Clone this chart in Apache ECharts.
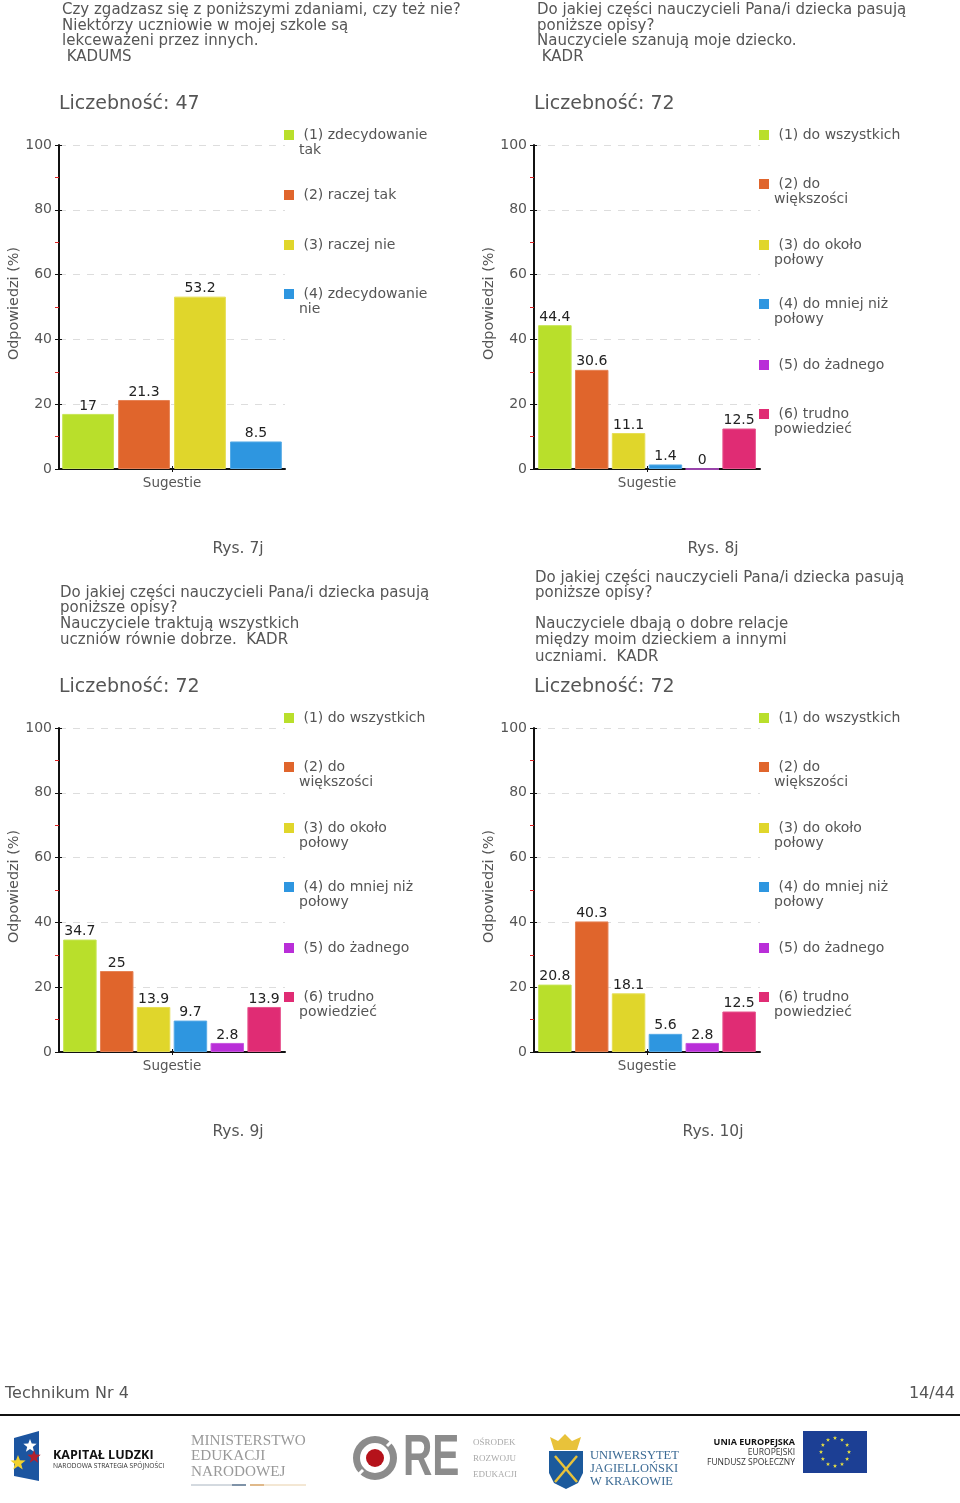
<!DOCTYPE html>
<html><head><meta charset="utf-8">
<style>html,body{margin:0;padding:0;background:#fff}#c{width:960px;height:1503px}</style>
<script src="https://cdn.jsdelivr.net/npm/echarts@6/dist/echarts.min.js"></script></head>
<body><div id="c"></div>
<script>
const FONT = '"DejaVu Sans"';
const answers4 = ['(1) zdecydowanie\ntak','(2) raczej tak','(3) raczej nie','(4) zdecydowanie\nnie'];
const answers6 = ['(1) do wszystkich','(2) do\nwiększości','(3) do około\npołowy','(4) do mniej niż\npołowy','(5) do żadnego','(6) trudno\npowiedzieć'];
const colors4 = ['#b9df2b','#e0652c','#e0d62b','#2e96e0'];
const colors6 = ['#b9df2b','#e0652c','#e0d62b','#2e96e0','#b92ed8','#e02c74'];
const values7 = [17,21.3,53.2,8.5];
const values8 = [44.4,30.6,11.1,1.4,0,12.5];
const values9 = [34.7,25,13.9,9.7,2.8,13.9];
const values10 = [20.8,40.3,18.1,5.6,2.8,12.5];
const counts = ['Liczebność: 47','Liczebność: 72','Liczebność: 72','Liczebność: 72'];
const captions = ['Rys. 7j','Rys. 8j','Rys. 9j','Rys. 10j'];
const yTicks = [0,20,40,60,80,100];
const xName = 'Sugestie', yName = 'Odpowiedzi (%)';
const q7 = ['Czy zgadzasz się z poniższymi zdaniami, czy też nie?','Niektórzy uczniowie w mojej szkole są','lekceważeni przez innych.',' KADUMS'];
const q8 = ['Do jakiej części nauczycieli Pana/i dziecka pasują','poniższe opisy?','Nauczyciele szanują moje dziecko.',' KADR'];
const q9 = ['Do jakiej części nauczycieli Pana/i dziecka pasują','poniższe opisy?','Nauczyciele traktują wszystkich','uczniów równie dobrze.  KADR'];
const q10 = ['Do jakiej części nauczycieli Pana/i dziecka pasują','poniższe opisy?','Nauczyciele dbają o dobre relacje','między moim dzieckiem a innymi','uczniami.  KADR'];

const panels = [
 {v:values7,a:answers4,c:colors4,x:59,y:145,leg:[134,194,244,293],qx:62,qy:[9,25,40,56],q:q7,cx:238,capY:548,cntY:102},
 {v:values8,a:answers6,c:colors6,x:534,y:145,leg:[134,183,244,303,364,413],qx:537,qy:[9,25,40,56],q:q8,cx:713,capY:548,cntY:102},
 {v:values9,a:answers6,c:colors6,x:59,y:728,leg:[717,766,827,886,947,996],qx:60,qy:[592,607,623,639],q:q9,cx:238,capY:1131,cntY:685},
 {v:values10,a:answers6,c:colors6,x:534,y:728,leg:[717,766,827,886,947,996],qx:535,qy:[577,592,623,639,656],q:q10,cx:713,capY:1131,cntY:685}
];
const W=226,H=324;
const grid=[],xAxis=[],yAxis=[],series=[],legend=[],g=[];
const txt=(t,x,y,s,o={})=>({type:'text',silent:true,x,y:y+(o.dy===undefined?1.5:o.dy),scaleX:o.sx||1,style:Object.assign({text:t,font:`${o.w||'normal'} ${s}px ${o.f||FONT}`,fill:o.c||'#555',align:o.a||'left',verticalAlign:'middle'})});
panels.forEach((p,i)=>{
 grid.push({left:p.x,top:p.y,width:W,height:H});
 xAxis.push({gridIndex:i,type:'category',data:[xName],axisLine:{lineStyle:{color:'#111',width:2}},
   axisTick:{show:false},axisLabel:{color:'#555',fontFamily:FONT,fontSize:13.5,margin:7}});
 [false,true].forEach(inside=>xAxis.push({gridIndex:i,type:'value',position:'bottom',min:0,max:2,
   axisLine:{show:false},axisLabel:{show:false},splitLine:{show:false},
   axisTick:{show:true,inside,length:3,customValues:[1],lineStyle:{color:'#111'}}}));
 yAxis.push({gridIndex:i,type:'value',min:0,max:100,interval:20,
   name:yName,nameLocation:'middle',nameGap:34,nameTextStyle:{color:'#555',fontFamily:FONT,fontSize:14.4,padding:[0,0,0,7]},
   axisLine:{show:true,lineStyle:{color:'#111',width:2}},
   axisTick:{show:true,length:4,lineStyle:{color:'#111'}},
   minorTick:{show:true,splitNumber:2,length:4,lineStyle:{color:'#d22'}},
   axisLabel:{color:'#555',fontFamily:FONT,fontSize:14,margin:7,padding:[3,0,0,0],formatter:v=>yTicks.includes(v)?String(v):''},
   splitLine:{show:true,lineStyle:{color:'#ddd',type:[7,7]}}});
 yAxis.push({gridIndex:i,type:'value',min:0,max:100,interval:20,position:'left',
   axisLine:{show:false},axisTick:{show:true,inside:true,length:3,lineStyle:{color:'#111'}},axisLabel:{show:false},splitLine:{show:false}});
 const six=p.v.length===6;
 p.v.forEach((val,k)=>{
  series.push({type:'bar',name:p.a[k],xAxisIndex:i*3,yAxisIndex:i*2,data:[val],
   barWidth:six?33.5:51.8,barGap:six?'10%':'8%',
   itemStyle:{color:p.c[k],borderColor:echarts.color.lift(p.c[k],0.2),borderWidth:1},
   label:{show:true,position:'top',distance:1,color:'#222',fontFamily:FONT,fontSize:14,formatter:'{c}'}});
  const two=p.a[k].includes('\n');
  legend.push({data:[p.a[k]],selectedMode:false,orient:'vertical',left:p.x+225,top:p.leg[k]-(two?23.25:7.75)+1,padding:0,
   itemWidth:10,itemHeight:10,icon:'rect',itemStyle:{borderWidth:0},
   formatter:n=>n.includes('\n')?'\n '+n:' '+n,
   textStyle:{color:'#555',fontFamily:FONT,fontSize:14,lineHeight:15.5}});
 });
 p.q.forEach((t,k)=>g.push(txt(t,p.qx,p.qy[k],15)));
 g.push(txt(counts[i],p.x,p.cntY,19,{dy:2}));
 g.push(txt(captions[i],p.cx,p.capY,15.5,{a:'center',dy:1}));
});
g.push(txt('Technikum Nr 4',5,1392,16),txt('14/44',955,1392,16,{a:'right'}));
g.push({type:'line',silent:true,shape:{x1:0,y1:1415,x2:960,y2:1415},style:{stroke:'#111',lineWidth:2}});
// logos
const star=(cx,cy,r,n=5)=>{const pts=[];for(let j=0;j<n*2;j++){const a=-Math.PI/2+j*Math.PI/n,q=j%2?r*0.42:r;pts.push([cx+q*Math.cos(a),cy+q*Math.sin(a)]);}return pts;};
const poly=(points,fill)=>({type:'polygon',silent:true,shape:{points},style:{fill}});
const ln=(x1,y1,x2,y2,stroke,lineWidth=1)=>({type:'line',silent:true,shape:{x1,y1,x2,y2},style:{stroke,lineWidth}});
g.push(poly([[14,1438],[39,1431],[39,1481],[14,1476]],'#1c55a0'),poly(star(30,1446,7),'#fff'),poly(star(18,1463,8),'#f2d22e'),poly(star(34,1457,7),'#b3202c'));
g.push(txt('KAPITAŁ LUDZKI',53,1455,12.5,{w:'bold',c:'#111',f:'"Open Sans"',dy:0}),txt('NARODOWA STRATEGIA SPÓJNOŚCI',53,1466,6.7,{c:'#333',f:'"Open Sans"',dy:0}));
[['MINISTERSTWO',1441],['EDUKACJI',1456],['NARODOWEJ',1472]].forEach(([t,y])=>g.push(txt(t,191,y,15.2,{c:'#999',f:'"Liberation Serif"',dy:0})));
g.push(ln(191,1485,232,1485,'#a8b4c0'),ln(232,1485,246,1485,'#7f93a8',2),ln(250,1485,264,1485,'#e0b98a',2),ln(264,1485,306,1485,'#e8cfa8'));
g.push({type:'ring',silent:true,shape:{cx:375,cy:1458,r:22,r0:15},style:{fill:'#8c8c8c'}},{type:'circle',silent:true,shape:{cx:375,cy:1458,r:9},style:{fill:'#b5121b'}});
g.push(ln(387,1446,395,1438,'#fff',3),ln(363,1470,355,1478,'#fff',3));
g.push(txt('RE',403,1459,58,{w:'bold',c:'#8c8c8c',f:'"Liberation Sans"',sx:0.7,dy:0}));
['OŚRODEK','ROZWOJU','EDUKACJI'].forEach((t,k)=>g.push(txt(t,473,1443+k*16,9,{c:'#aaa',f:'"Liberation Serif"',dy:0})));
g.push(poly([[549,1451],[583,1451],[583,1473],[578,1483],[566,1489],[554,1483],[549,1473]],'#1c5a9c'));
g.push(poly([[550,1437],[558,1441],[565,1434],[572,1441],[581,1437],[577,1450],[554,1450]],'#e8c23a'));
g.push(ln(555,1456,577,1482,'#e8c23a',2.5),ln(577,1456,555,1482,'#e8c23a',2.5));
['UNIWERSYTET','JAGIELLOŃSKI','W KRAKOWIE'].forEach((t,k)=>g.push(txt(t,590,1456+k*13,12.5,{c:'#3b6a94',f:'"Liberation Serif"',dy:0})));
g.push(txt('UNIA EUROPEJSKA',795,1442,9,{a:'right',w:'bold',c:'#111',f:'"Open Sans"',dy:0}),txt('EUROPEJSKI',795,1453,8.5,{a:'right',c:'#333',f:'"Open Sans"',dy:0}),txt('FUNDUSZ SPOŁECZNY',795,1463,8.5,{a:'right',c:'#333',f:'"Open Sans"',dy:0}));
g.push({type:'rect',silent:true,shape:{x:803,y:1431,width:64,height:42},style:{fill:'#1c3f94'}});
for(let j=0;j<12;j++){const a=j*Math.PI/6;g.push(poly(star(835+14*Math.cos(a),1452+14*Math.sin(a),2.2),'#e8e040'));}

const chart=echarts.init(document.getElementById('c'));
chart.setOption({animation:false,backgroundColor:'#fff',grid,xAxis,yAxis,series,legend,graphic:{elements:g}});
</script></body></html>
